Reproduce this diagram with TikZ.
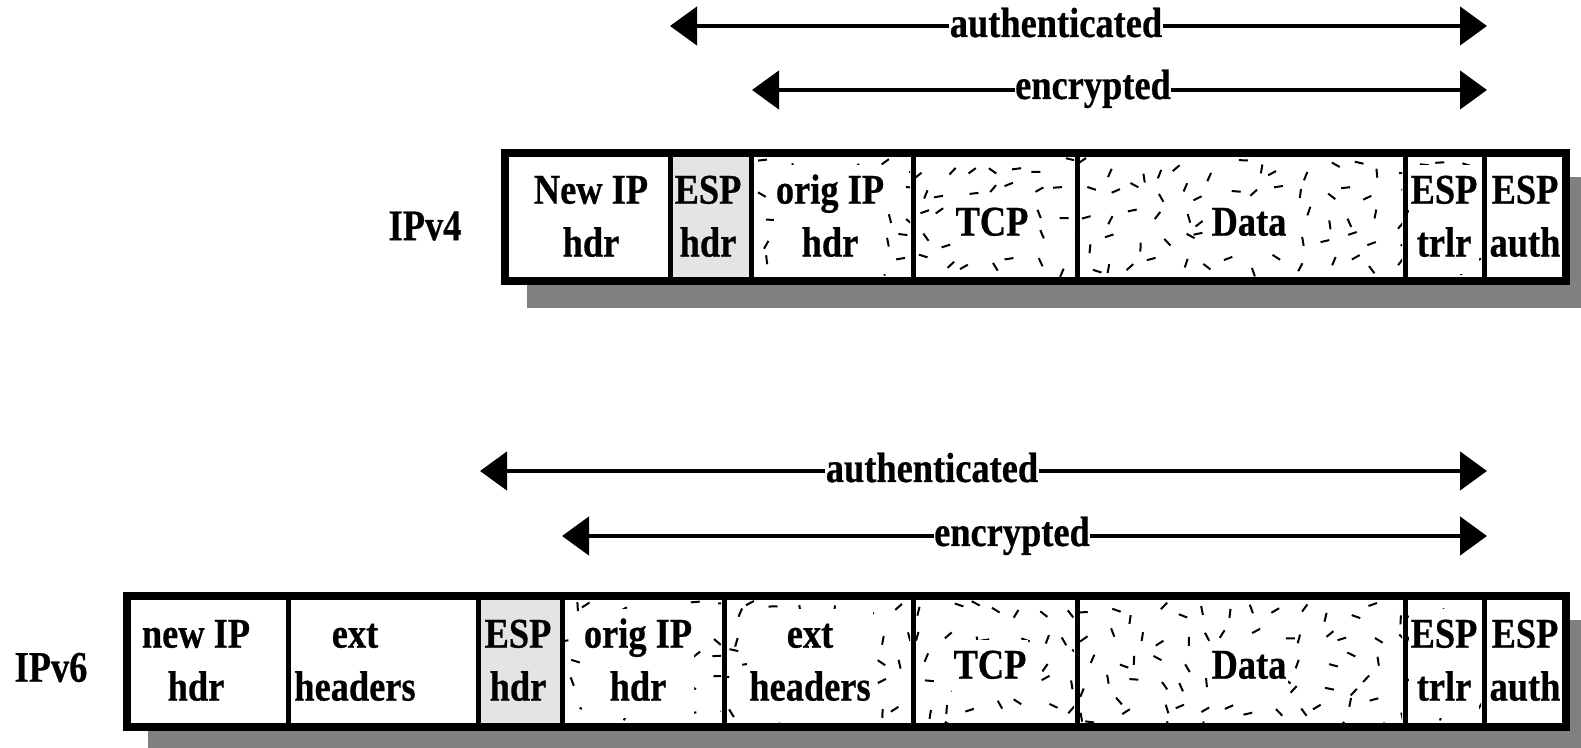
\documentclass[tikz,border=0pt]{standalone}
\usepackage{fontspec}
\setmainfont{Liberation Serif}[BoldFeatures={FakeBold=0.6}]
\usetikzlibrary{arrows.meta,fit}

% stacked, centred text for a packet field
\newcommand\cellText[1]{\scalebox{1}[1.16]{\begin{tabular}{@{}c@{}}#1\end{tabular}}}
% scattered short strokes (jittered grid) marking the encrypted part of a field
\newcommand\speckles[4]{%
  \begin{scope}
    \clip (#1,#2) rectangle (#3,#4);
    \pgfmathtruncatemacro\nx{(#3-#1)/24}%
    \pgfmathtruncatemacro\ny{(#4-#2)/24}%
    \foreach \i in {0,...,\nx}{%
      \foreach \j in {0,...,\ny}{%
        \pgfmathsetmacro\sx{#1+8+24*\i+16*(rnd-0.5)}%
        \pgfmathsetmacro\sy{#2+8+24*\j+16*(rnd-0.5)}%
        \pgfmathsetmacro\sa{180*rnd}%
        \draw[speck] (\sx,\sy) -- ++(\sa:9);
      }}
  \end{scope}}

\definecolor{espgray}{HTML}{E4E4E4}
\definecolor{shadowgray}{HTML}{808080}

\begin{document}
\begin{tikzpicture}[x=0.5pt,y=-0.5pt,
  txt/.style={font=\bfseries\fontsize{18.2}{22.8}\selectfont, inner sep=0pt},
  clear/.style={fill=white, inner sep=1pt},
  cell/.style={draw, fill=white, line width=2.5pt, inner sep=0pt},
  frame/.style={draw, line width=3pt},
  speck/.style={line width=1pt},
  span/.style={line width=2.3pt, -{Triangle[length=13.5pt,width=19pt]}}]

\useasboundingbox (0,0) rectangle (1581,748);
\pgfmathsetseed{4711}

% drop shadows behind the two packets
\begin{scope}
  \clip (0,0) rectangle (1581,748);
  \fill[shadowgray] (527,177) rectangle (1595,308);
  \fill[shadowgray] (148,620) rectangle (1595,760);
\end{scope}

% ---------------- IPv4 packet ----------------
\node[cell, fit={(506,155) (670,280)}] (v4new) {};
\node[cell, fill=espgray, fit={(670,155) (751,280)}] (v4esph) {};
\node[cell, fit={(751,155) (913,280)}] (v4orig) {};
\node[cell, fit={(913,155) (1077,280)}] (v4tcp) {};
\node[cell, fit={(1077,155) (1405,280)}] (v4data) {};
\node[cell, fit={(1405,155) (1484,280)}] (v4trlr) {};
\node[cell, fit={(1484,155) (1564,280)}] (v4auth) {};

\speckles{754}{158}{910}{277}
\speckles{916}{158}{1074}{277}
\speckles{1080}{158}{1402}{277}
\speckles{1408}{158}{1481}{277}

\node[txt] (t4new) at (591,219.5) {\cellText{New IP\\hdr}};
\node[txt] (t4esph) at (708,219.5) {\cellText{ESP\\hdr}};
\node[txt, clear] (t4orig) at (830,219.5) {\cellText{orig IP\\hdr}};
\node[txt, clear] (t4tcp) at (992,225) {\cellText{TCP}};
\node[txt, clear] (t4data) at (1249,225) {\cellText{Data}};
\node[txt, clear] (t4trlr) at (1444,219.5) {\cellText{ESP\\trlr}};
\node[txt] (t4auth) at (1525,219.5) {\cellText{ESP\\auth}};

\draw[frame] (v4new.north west) rectangle (v4auth.south east);
\node[txt] (ipv4) at (425,226) {\scalebox{1}[1.2]{IPv4}};

% IPv4 coverage spans
\node[txt, anchor=base] (auth4) at (1056,37) {\scalebox{1}[1.16]{authenticated}};
\coordinate (auth4L) at (670,26);
\coordinate (auth4R) at (1487,26);
\draw[span] (auth4.west |- auth4L) -- (auth4L);
\draw[span] (auth4.east |- auth4R) -- (auth4R);

\node[txt, anchor=base] (enc4) at (1093,99) {\scalebox{1}[1.16]{encrypted}};
\coordinate (enc4L) at (752,90);
\coordinate (enc4R) at (1487,90);
\draw[span] (enc4.west |- enc4L) -- (enc4L);
\draw[span] (enc4.east |- enc4R) -- (enc4R);

% ---------------- IPv6 packet ----------------
\node[cell, fit={(128,598) (288,725)}] (v6new) {};
\node[cell, fit={(288,598) (478,725)}] (v6ext) {};
\node[cell, fill=espgray, fit={(478,598) (562,725)}] (v6esph) {};
\node[cell, fit={(562,598) (724,725)}] (v6orig) {};
\node[cell, fit={(724,598) (913,725)}] (v6ext2) {};
\node[cell, fit={(913,598) (1077,725)}] (v6tcp) {};
\node[cell, fit={(1077,598) (1405,725)}] (v6data) {};
\node[cell, fit={(1405,598) (1484,725)}] (v6trlr) {};
\node[cell, fit={(1484,598) (1564,725)}] (v6auth) {};

\speckles{565}{601}{721}{722}
\speckles{727}{601}{910}{722}
\speckles{916}{601}{1074}{722}
\speckles{1080}{601}{1402}{722}
\speckles{1408}{601}{1481}{722}

\node[txt] (t6new) at (196,663.5) {\cellText{new IP\\hdr}};
\node[txt] (t6ext) at (355,663.5) {\cellText{ext\\headers}};
\node[txt] (t6esph) at (518,663.5) {\cellText{ESP\\hdr}};
\node[txt, clear] (t6orig) at (638,663.5) {\cellText{orig IP\\hdr}};
\node[txt, clear] (t6ext2) at (810,663.5) {\cellText{ext\\headers}};
\node[txt, clear] (t6tcp) at (990,668) {\cellText{TCP}};
\node[txt, clear] (t6data) at (1249,668) {\cellText{Data}};
\node[txt, clear] (t6trlr) at (1444,663.5) {\cellText{ESP\\trlr}};
\node[txt] (t6auth) at (1525,663.5) {\cellText{ESP\\auth}};

\draw[frame] (v6new.north west) rectangle (v6auth.south east);
\node[txt] (ipv6) at (51,667.5) {\scalebox{1}[1.2]{IPv6}};

% IPv6 coverage spans
\node[txt, anchor=base] (auth6) at (932,482) {\scalebox{1}[1.16]{authenticated}};
\coordinate (auth6L) at (480,471);
\coordinate (auth6R) at (1487,471);
\draw[span] (auth6.west |- auth6L) -- (auth6L);
\draw[span] (auth6.east |- auth6R) -- (auth6R);

\node[txt, anchor=base] (enc6) at (1012,546) {\scalebox{1}[1.16]{encrypted}};
\coordinate (enc6L) at (562,536);
\coordinate (enc6R) at (1487,536);
\draw[span] (enc6.west |- enc6L) -- (enc6L);
\draw[span] (enc6.east |- enc6R) -- (enc6R);

\end{tikzpicture}
\end{document}
